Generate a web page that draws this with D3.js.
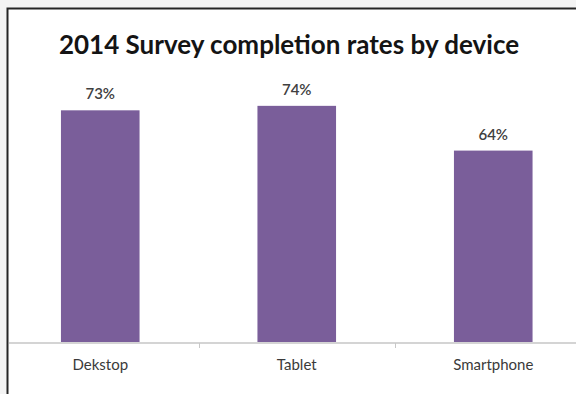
<!DOCTYPE html>
<html>
<head>
<meta charset="utf-8">
<script src="https://cdn.jsdelivr.net/npm/d3@7"></script>
<style>
  html, body { margin: 0; padding: 0; background: #f4f4f4; }
  svg { display: block; }
</style>
</head>
<body>
<svg id="chart" width="576" height="394"></svg>
<script>
// Survey completion rates by device, 2014
const categories = ["Dekstop", "Tablet", "Smartphone"];
const rates = [73, 74, 64];
const valueLabels = ["73%", "74%", "64%"];
const title = "2014 Survey completion rates by device";

const W = 576, H = 394;
const svg = d3.select("#chart");
const font = "Lato, 'Open Sans', sans-serif";

// chart frame: white panel with a dark top/left border
svg.append("rect")
  .attr("x", 7).attr("y", 8)
  .attr("width", W - 7).attr("height", H - 8)
  .attr("fill", "#ffffff");
svg.append("path")
  .attr("d", `M7.5,${H} V8.5 H${W}`)
  .attr("fill", "none")
  .attr("stroke", "#262626")
  .attr("stroke-width", 2);

const baseY = 343;
const x = d3.scaleBand()
  .domain(categories)
  .range([2, 591.5])
  .padding(0);

const y = d3.scaleLinear()
  .domain([21, 80])
  .range([baseY, 79]);

const barW = x.bandwidth() * 0.4;

// bars
svg.append("g")
  .selectAll("rect")
  .data(categories)
  .join("rect")
  .attr("x", (d) => x(d) + (x.bandwidth() - barW) / 2)
  .attr("y", (d, i) => y(rates[i]))
  .attr("width", barW)
  .attr("height", (d, i) => baseY - y(rates[i]))
  .attr("fill", "#7a5e9a");

// category axis
const axis = svg.append("g")
  .attr("transform", `translate(0,${baseY})`)
  .call(d3.axisBottom(x).tickSize(0).tickFormat(""));
axis.select(".domain").remove();
axis.append("line")
  .attr("x1", 9).attr("x2", W)
  .attr("y1", 0).attr("y2", 0)
  .attr("stroke", "#d4d4d4")
  .attr("stroke-width", 2);
// tick marks between categories
axis.selectAll(".sep")
  .data(categories.slice(1))
  .join("line")
  .attr("class", "sep")
  .attr("x1", (d) => Math.round(x(d)) + 0.5)
  .attr("x2", (d) => Math.round(x(d)) + 0.5)
  .attr("y1", 0).attr("y2", 5)
  .attr("stroke", "#c8c8c8")
  .attr("stroke-width", 1);

// category labels
svg.append("g")
  .selectAll("text")
  .data(categories)
  .join("text")
  .attr("x", (d) => x(d) + x.bandwidth() / 2)
  .attr("y", 370)
  .attr("text-anchor", "middle")
  .attr("font-family", font)
  .attr("font-size", 15)
  .attr("fill", "#3a3a3a")
  .text((d) => d);

// value labels
svg.append("g")
  .selectAll("text")
  .data(categories)
  .join("text")
  .attr("x", (d) => x(d) + x.bandwidth() / 2)
  .attr("y", (d, i) => y(rates[i]) - 11)
  .attr("text-anchor", "middle")
  .attr("font-family", font)
  .attr("font-size", 15)
  .attr("font-weight", 600)
  .attr("fill", "#404040")
  .text((d, i) => valueLabels[i]);

// title
svg.append("text")
  .attr("x", 289)
  .attr("y", 54)
  .attr("text-anchor", "middle")
  .attr("font-family", font)
  .attr("font-size", 26)
  .attr("font-weight", 700)
  .attr("fill", "#141414")
  .text(title);
</script>
</body>
</html>
